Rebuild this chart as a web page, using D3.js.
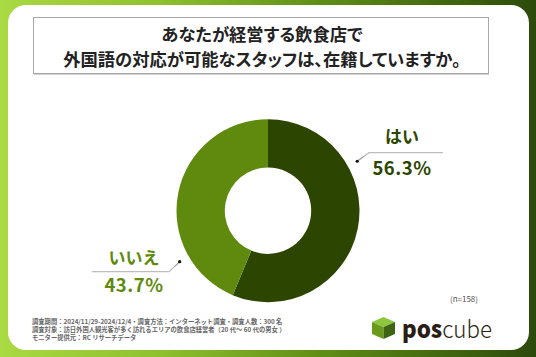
<!DOCTYPE html>
<html><head><meta charset="utf-8">
<script src="https://cdn.jsdelivr.net/npm/d3@7"></script>
<style>
html,body{margin:0;padding:0;background:#fff;}
svg{display:block;}
text{font-family:"Noto Sans CJK JP","Noto Sans",sans-serif;}
</style></head>
<body>
<svg id="c" width="536" height="357"></svg>
<script>
const categories = ["はい", "いいえ"];
const values = [56.3, 43.7];
const colors = ["#2c4501", "#5f8a0e"];
const titleLines = ["あなたが経営する飲食店で", "外国語の対応が可能なスタッフは、在籍していますか。"];
const sampleNote = "(n=158)";
const footnotes = [
  "調査期間：2024/11/29-2024/12/4・調査方法：インターネット調査・調査人数：300 名",
  "調査対象：訪日外国人観光客が多く訪れるエリアの飲食店経営者（20 代～ 60 代の男女 ）",
  "モニター提供元：RC リサーチデータ"
];
// label anchor angles (degrees, clockwise from top)
const labelAngles = [61, 240];

const svg = d3.select("#c");
const W = 536, H = 357;

const defs = svg.append("defs");
const g = defs.append("linearGradient").attr("id","bg").attr("x1","0").attr("x2","1").attr("y1","0").attr("y2","0");
g.append("stop").attr("offset","0").attr("stop-color","#a9da42");
g.append("stop").attr("offset","0.3").attr("stop-color","#8fc02e");
g.append("stop").attr("offset","0.6").attr("stop-color","#5f8e16");
g.append("stop").attr("offset","1").attr("stop-color","#2c4a0b");
svg.append("rect").attr("width",W).attr("height",H).attr("fill","url(#bg)");

// white card
svg.append("rect").attr("x",8).attr("y",5).attr("width",521).attr("height",345).attr("rx",18).attr("fill","#fff");

// title box
svg.append("rect").attr("x",33.5).attr("y",17.5).attr("width",455).attr("height",56).attr("fill","#fff").attr("stroke","#a8a8a8").attr("stroke-width",1);
svg.append("line").attr("x1",34).attr("x2",489).attr("y1",74.5).attr("y2",74.5).attr("stroke","#d0d0d0");
svg.selectAll("text.title").data(titleLines).join("text")
  .attr("x",262).attr("y",(d,i)=>41+i*25)
  .attr("text-anchor","middle").attr("font-size",17.3).attr("font-weight",700).attr("fill","#222")
  .style("font-feature-settings","'palt'")
  .text(d=>d);

// donut
const cx = 268, cy = 210.7, R = 91.5, r = 43.2;
const pie = d3.pie().sort(null).value(d=>d);
const arc = d3.arc().innerRadius(r).outerRadius(R);
const gp = svg.append("g").attr("transform",`translate(${cx},${cy})`);
gp.selectAll("path").data(pie(values)).join("path").attr("d",arc).attr("fill",(d,i)=>colors[i]);

// labels
const labelCfg = [
  {lineX1:369, lineX2:443, lineY:152.7, tx:402, ty1:143, ty2:175},
  {lineX1:169, lineX2:92, lineY:271.7, tx:134, ty1:264, ty2:292}
];
const fmt = d3.format(".1f");
pie(values).forEach((d,i)=>{
  const p = d3.pointRadial(labelAngles[i]*Math.PI/180, R+10.5);
  const px = cx+p[0], py = cy+p[1];
  const c = labelCfg[i];
  svg.append("polyline")
    .attr("points",`${px},${py} ${c.lineX1},${c.lineY} ${c.lineX2},${c.lineY}`)
    .attr("fill","none").attr("stroke","#bdbdbd").attr("stroke-width",1.2);
  svg.append("line").attr("x1",px).attr("y1",py).attr("x2",px+(c.lineX1-px)*0.5).attr("y2",py+(c.lineY-py)*0.5)
    .attr("stroke","#888").attr("stroke-width",0.8);
  svg.append("circle").attr("cx",px).attr("cy",py).attr("r",1.6).attr("fill","#111");
  svg.append("text").attr("x",c.tx).attr("y",c.ty1).attr("text-anchor","middle")
    .attr("font-size",17).attr("font-weight",700).attr("fill",colors[i]).text(categories[i]);
  svg.append("text").attr("x",c.tx).attr("y",c.ty2).attr("text-anchor","middle")
    .attr("font-size",18.5).attr("font-weight",700).attr("fill",colors[i]).attr("letter-spacing",0.5)
    .text(fmt(values[i])+"%");
});

svg.append("text").attr("x",464).attr("y",301.5).attr("text-anchor","middle")
  .attr("font-size",8).attr("fill","#555").text(sampleNote);

svg.selectAll("text.fn").data(footnotes).join("text")
  .attr("x",32).attr("y",(d,i)=>324+i*7.8)
  .attr("font-size",6.3).attr("font-weight",700).attr("fill","#666").text(d=>d);

// logo
const lg = svg.append("g").attr("transform","translate(372,317)");
lg.append("polygon").attr("points","11.5,0 23,5 11.5,10 0,5").attr("fill","#8dc63f");
lg.append("polygon").attr("points","0,5 11.5,10 11.5,22 0,17").attr("fill","#6a9a1c");
lg.append("polygon").attr("points","11.5,10 23,5 23,17 11.5,22").attr("fill","#3e6312");
const lt = svg.append("text").attr("x",402).attr("y",338).attr("font-size",24).attr("fill","#2a1e14")
  .attr("font-family","'Open Sans','Noto Sans',sans-serif")
  .attr("textLength",90).attr("lengthAdjust","spacingAndGlyphs");
lt.append("tspan").attr("font-weight",800).text("pos");
lt.append("tspan").attr("font-weight",300).text("cube");
</script>
</body></html>
